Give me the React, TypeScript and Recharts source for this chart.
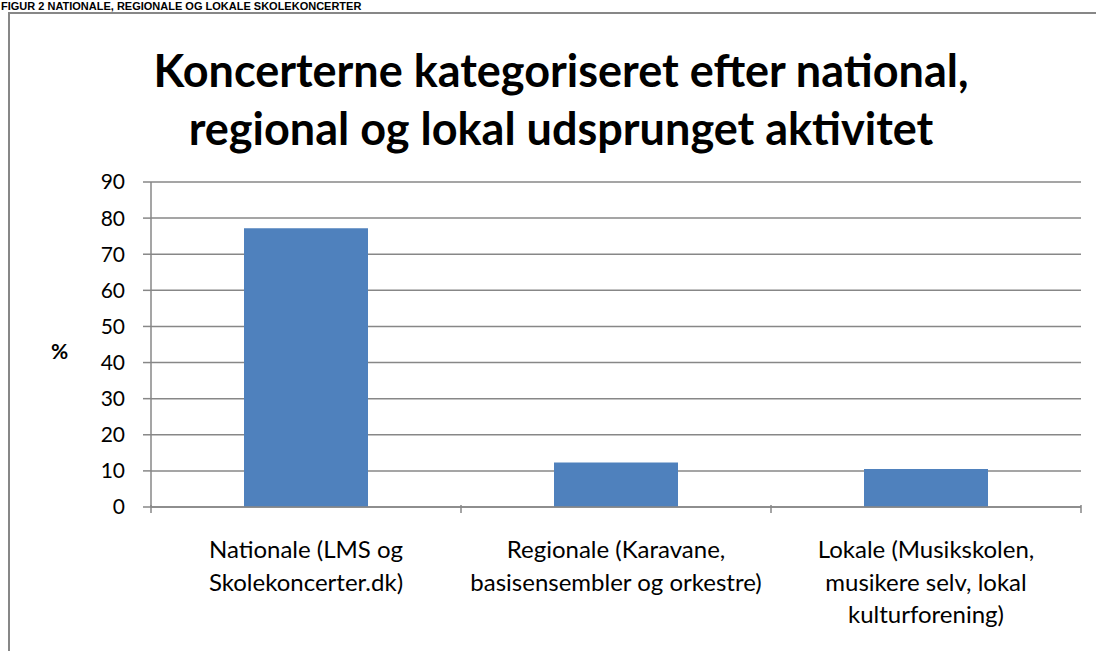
import React from "react";
import { BarChart, Bar, XAxis, YAxis, CartesianGrid } from "recharts";

const categories = [
  "Nationale (LMS og\nSkolekoncerter.dk)",
  "Regionale (Karavane,\nbasisensembler og orkestre)",
  "Lokale (Musikskolen,\nmusikere selv, lokal\nkulturforening)"
];
const percentages = [77.2, 12.3, 10.5];
const yTicks = [0, 10, 20, 30, 40, 50, 60, 70, 80, 90];

const chartData = categories.map((name, i) => ({ name, value: percentages[i] }));

const FONT = "Lato, 'Open Sans', sans-serif";
const GRID = "#878787";

const CategoryTick = (props: any) => {
  const { x, y, payload, index, visibleTicksCount } = props;
  const half = payload.offset || 0;
  const lines = String(payload.value).split("\n");
  const axisY = y - 10;
  return (
    <g>
      <line x1={x - half} y1={axisY} x2={x - half} y2={axisY + 8} stroke={GRID} strokeWidth={1.5} />
      {index === visibleTicksCount - 1 && (
        <line x1={x + half} y1={axisY} x2={x + half} y2={axisY + 8} stroke={GRID} strokeWidth={1.5} />
      )}
      <text x={x} y={y + 43} textAnchor="middle" fontFamily={FONT} fontSize={24} fill="#000">
        {lines.map((l, i) => (
          <tspan key={i} x={x} dy={i === 0 ? 0 : 32.5}>
            {l}
          </tspan>
        ))}
      </text>
    </g>
  );
};

export default function App() {
  return (
    <div style={{ position: "absolute", left: 0, top: 0, width: 1096, height: 651, overflow: "hidden", background: "#fff" }}>
      <div
        style={{
          position: "absolute",
          left: 1,
          top: 0,
          fontFamily: "'Liberation Sans', sans-serif",
          fontWeight: 700,
          fontSize: 11,
          lineHeight: "12px",
          whiteSpace: "nowrap",
          color: "#000"
        }}
      >
        FIGUR 2 NATIONALE, REGIONALE OG LOKALE SKOLEKONCERTER
      </div>
      <div
        style={{
          position: "absolute",
          left: 8,
          top: 12,
          width: 1200,
          height: 800,
          borderLeft: `2px solid ${GRID}`,
          borderTop: `2px solid ${GRID}`
        }}
      />
      <div
        style={{
          position: "absolute",
          left: 0,
          top: 41,
          width: 1122,
          textAlign: "center",
          fontFamily: FONT,
          fontWeight: 700,
          fontSize: 45,
          lineHeight: "58px",
          color: "#000"
        }}
      >
        Koncerterne kategoriseret efter national,
        <br />
        regional og lokal udsprunget aktivitet
      </div>
      <div
        style={{
          position: "absolute",
          left: 51,
          top: 338,
          fontFamily: FONT,
          fontWeight: 700,
          fontSize: 21,
          color: "#000"
        }}
      >
        %
      </div>
      <div style={{ position: "absolute", left: 0, top: 0 }}>
        <BarChart
          width={1096}
          height={651}
          data={chartData}
          margin={{ top: 182, right: 15, left: 0, bottom: 0 }}
          barCategoryGap="30%"
        >
          <CartesianGrid vertical={false} stroke={GRID} strokeWidth={1.5} />
          <XAxis
            dataKey="name"
            height={144}
            axisLine={{ stroke: GRID, strokeWidth: 1.5 }}
            tickLine={false}
            tick={<CategoryTick />}
            interval={0}
          />
          <YAxis
            width={151}
            domain={[0, 90]}
            ticks={yTicks}
            interval={0}
            axisLine={{ stroke: GRID, strokeWidth: 1.5 }}
            tickLine={{ stroke: GRID, strokeWidth: 1.5 }}
            tickSize={8}
            tickMargin={18}
            tick={{ fontFamily: FONT, fontSize: 21, fill: "#000" }}
          />
          <Bar dataKey="value" fill="#4f81bd" isAnimationActive={false} />
        </BarChart>
      </div>
    </div>
  );
}
